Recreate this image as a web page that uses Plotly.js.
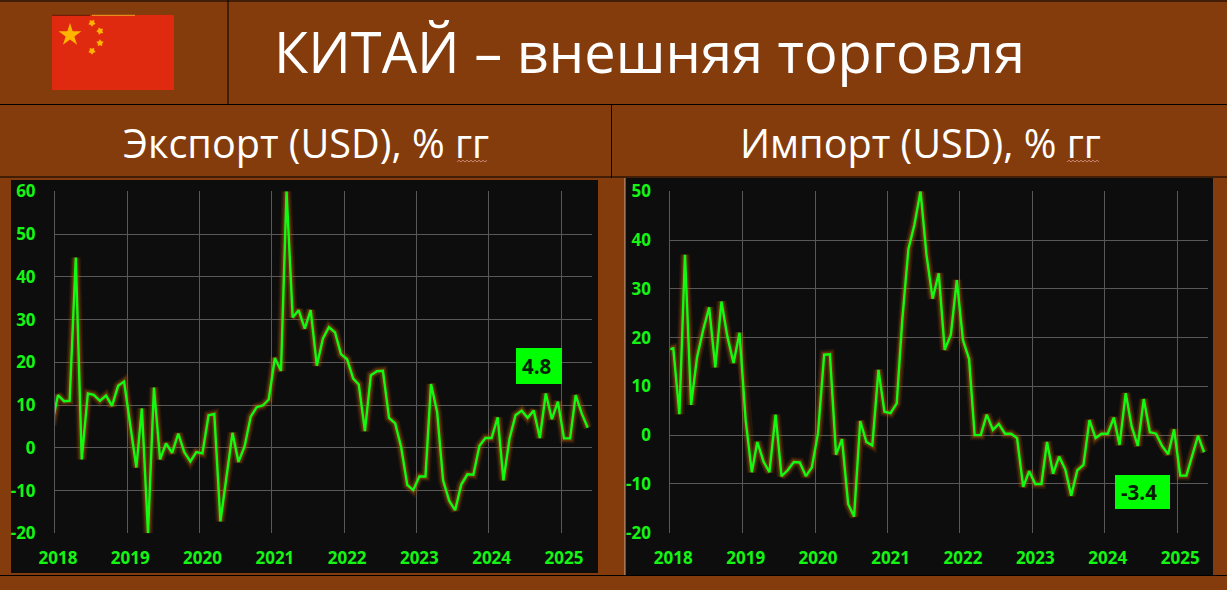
<!DOCTYPE html>
<html><head><meta charset="utf-8">
<script src="https://cdn.plot.ly/plotly-3.0.1.min.js"></script>
<style>html,body{margin:0;padding:0;background:#843C0C;overflow:hidden}#c{width:1227px;height:590px}</style>
</head><body><div id="c"></div>
<script>
const titleText = "КИТАЙ – внешняя торговля";
const exportTitle = "Экспорт (USD), % гг";
const importTitle = "Импорт (USD), % гг";
const yearLabels = ["2018","2019","2020","2021","2022","2023","2024","2025"];
const exportTicks = [-20,-10,0,10,20,30,40,50,60];
const importTicks = [-20,-10,0,10,20,30,40,50];
const exportLabel = "4.8";
const importLabel = "-3.4";
// Dec 2017 onward, one value per month
const exportValues = [5.3,12.3,10.9,11,44.5,-2.7,12.7,12.4,11,12.2,9.8,14.5,15.5,5,-4.6,9.2,-20,14.1,-2.7,1,-1.2,3.3,-1,-3.2,-1,-1.3,7.6,7.9,-17.2,-7,3.5,-3.3,0.3,7.3,9.5,9.9,11.3,21,18,60,30.5,32.2,27.9,32.2,19.2,25.6,28.2,27,21.9,20.7,16.2,14.8,3.9,17,17.9,18,7,5.7,0.2,-8.7,-9.9,-6.7,-6.7,14.9,8.4,-7.6,-12.4,-14.6,-8.6,-6.2,-6.3,0.5,2.3,2.3,7.1,-7.6,2.2,7.6,8.7,7,8.7,2.3,12.7,6.7,10.8,2.2,2.2,12.3,8,4.7];
const importValues = [17.5,17.8,4.3,37,6.2,16,21.6,26.2,13.9,27.4,20.2,14.8,21,3.1,-7.6,-1.4,-5.4,-7.6,4.2,-8.4,-7.2,-5.5,-5.6,-8.4,-6.6,0.4,16.5,16.6,-4,-0.8,-14.1,-16.7,2.9,-1.4,-2.1,13.4,4.8,4.5,6.5,23.6,38.2,43.1,50,37,28,33.2,17.5,20.6,31.8,19.5,15.6,0,0,4.2,1.1,2.3,0.3,0.3,-0.6,-10.6,-7.4,-10,-10,-1.4,-7.9,-4.4,-7,-12.4,-7.2,-6.1,3.1,-0.6,0.3,0.3,3.6,-2,8.6,1.8,-2.2,7.4,0.6,0.3,-2.2,-3.9,1.2,-8.3,-8.3,-4.2,-0.1,-3.5];

const W=1227,H=590;
const px=x=>x/W, py=y=>1-y/H;
const months=n=>Array.from({length:n},(_,i)=>{const m=(i+11)%12+1,y=2017+Math.floor((i+11)/12);return y+"-"+String(m).padStart(2,"0")+"-16";});
const yearVals=yearLabels.map(y=>y+"-01-01");
const GREEN="#12FA12",LAB="#14F514",GLOW="rgba(190,95,10,",LINE="#000000";
function series(vals,xa,ya){
  const x=months(vals.length);
  return [[10,0.13],[7,0.2],[5,0.26]].map(g=>({x,y:vals,xaxis:xa,yaxis:ya,mode:"lines",hoverinfo:"skip",showlegend:false,line:{color:GLOW+g[1]+")",width:g[0]}}))
   .concat([{x,y:vals,xaxis:xa,yaxis:ya,mode:"lines",showlegend:false,line:{color:GREEN,width:2.4}}]);
}
const tickFont={family:"'Open Sans',sans-serif",size:17,color:LAB,weight:700};
function xAxis(d,anchor,end){return {domain:[px(d[0]),px(d[1])],anchor,range:["2018-01-01",end],type:"date",tickmode:"array",tickvals:yearVals,ticktext:yearLabels,ticklabelshift:3,ticklabelstandoff:13,ticks:"",showgrid:true,gridcolor:"#585858",gridwidth:1,zeroline:false,showline:false,tickfont:tickFont,fixedrange:true};}
function yAxis(d,anchor,r,t){return {domain:[py(d[1]),py(d[0])],anchor,range:r,tickmode:"array",tickvals:t,ticktext:t.map(String),ticks:"",ticklabelstandoff:15,showgrid:true,gridcolor:"#585858",gridwidth:1,zeroline:false,showline:true,linecolor:"#585858",linewidth:1,tickfont:tickFont,fixedrange:true};}

function R(x0,y0,x1,y1,fill){return {type:"rect",xref:"paper",yref:"paper",x0:px(x0),x1:px(x1),y0:py(y0),y1:py(y1),fillcolor:fill,line:{width:0},layer:"below"};}
function L(x0,y0,x1,y1,c,w){return {type:"line",xref:"paper",yref:"paper",x0:px(x0),x1:px(x1),y0:py(y0),y1:py(y1),line:{color:c,width:w||1},layer:"below"};}
function star(cx,cy,r,rot,inner){let p="";for(let i=0;i<10;i++){const a=rot+i*Math.PI/5,q=i%2?r*(inner||0.382):r;p+=(i?"L":"M")+px(cx+q*Math.sin(a))+","+py(cy-q*Math.cos(a));}return {type:"path",xref:"paper",yref:"paper",path:p+"Z",fillcolor:"#FFB400",line:{width:0},layer:"below"};}
function wavy(x0,x1,y){let p="M"+px(x0)+","+py(y),up=true;for(let x=x0+2;x<=x1;x+=2){p+="L"+px(x)+","+py(y+(up?-1.8:0));up=!up;}return {type:"path",xref:"paper",yref:"paper",path:p,line:{color:"#D09080",width:0.9},layer:"below"};}

const shapes=[
 R(11,180,598,573,"#0D0D0D"),R(625,178,1213,575,"#0D0D0D"),
 L(0,1,W,1,LINE),L(0,104.5,W,104.5,LINE),L(0,177,W,177,LINE),
 L(228,0,228,104,LINE),L(611.5,104,611.5,178,LINE),L(0,575.5,W,575.5,LINE),
 L(625,178,625,575,"#E8E0D8",0.7),
 R(52,15,174,90,"#E02A10"),L(52,15.3,90,15.3,"#5A1A08"),L(92,15.3,135,15.3,"#F0A020"),
 star(70,35,12,0),star(92,23,3.8,0.6,0.6),star(100,31,3.8,0.9,0.6),star(100,43,3.8,0,0.6),star(92,51,3.8,0.6,0.6),
 wavy(457,488,162),wavy(1067,1100,162),
 {type:"rect",xref:"paper",yref:"paper",x0:px(516),x1:px(562),y0:py(348),y1:py(384),fillcolor:"#00FF00",line:{width:0}},
 {type:"rect",xref:"paper",yref:"paper",x0:px(1115),x1:px(1170),y0:py(475),y1:py(509),fillcolor:"#00FF00",line:{width:0}}
];
function ann(text,x,y,size,color,weight){return {xref:"paper",yref:"paper",x:px(x),y:py(y),text,showarrow:false,xanchor:"center",yanchor:"middle",font:{family:"'Open Sans',sans-serif",size,color,weight:weight||400}};}
const layout={width:W,height:H,margin:{l:0,r:0,t:0,b:0},paper_bgcolor:"#843C0C",plot_bgcolor:"#0D0D0D",showlegend:false,
 title:{text:titleText,x:px(649.5),y:py(53),xref:"paper",yref:"paper",xanchor:"center",yanchor:"middle",font:{family:"'Open Sans',sans-serif",size:56,color:"#fff"}},
 xaxis:xAxis([55,591.7],"y","2025-06-05"),yaxis:yAxis([191.3,533.3],"x",[-20,60],exportTicks),
 xaxis2:xAxis([670.3,1208],"y2","2025-06-05"),yaxis2:yAxis([191.3,532.7],"x2",[-20,50],importTicks),
 shapes,
 annotations:[ann(exportTitle,305.5,143,39.6,"#fff"),ann(importTitle,920,143,39.6,"#fff"),
  ann(exportLabel,536,366,20.5,"#062006",700),ann(importLabel,1139,492,20.5,"#062006",700)]};
Plotly.newPlot("c",series(exportValues,"x","y").concat(series(importValues,"x2","y2")),layout,{displayModeBar:false,staticPlot:true});
</script></body></html>
